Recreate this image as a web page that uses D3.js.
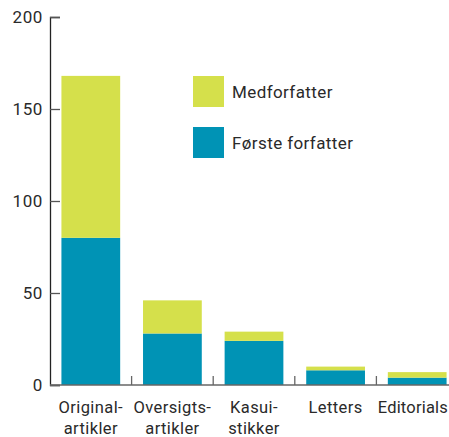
<!DOCTYPE html>
<html>
<head>
<meta charset="utf-8">
<script src="https://cdn.jsdelivr.net/npm/d3@7"></script>
<style>
  body { margin: 0; background: #fff; }
  svg text { font-family: Roboto, sans-serif; fill: #2a2a2a; }
</style>
</head>
<body>
<svg id="chart"></svg>
<script>
// categories (label lines) and the two stacked series
const categories = ["Originalartikler", "Oversigtsartikler", "Kasuistikker", "Letters", "Editorials"];
const categoryLines = [["Original-", "artikler"], ["Oversigts-", "artikler"], ["Kasui-", "stikker"], ["Letters"], ["Editorials"]];
const forsteForfatter = [80, 28, 24, 8, 4];
const medforfatter = [88, 18, 5, 2, 3];
const seriesNames = ["Medforfatter", "Første forfatter"];
const yTicks = [0, 50, 100, 150, 200];

const width = 449;
const height = 437;
const margin = { top: 17, right: -9, bottom: 52, left: 50 };

const colors = { "Medforfatter": "#d5e04b", "Første forfatter": "#0093b5" };

const svg = d3.select("#chart")
  .attr("width", width)
  .attr("height", height);

const data = categories.map((c, i) => ({
  category: c,
  "Første forfatter": forsteForfatter[i],
  "Medforfatter": medforfatter[i]
}));

const x = d3.scaleBand()
  .domain(categories)
  .range([margin.left, width - margin.right])
  .paddingInner(0.28)
  .paddingOuter(0.14);

const y = d3.scaleLinear()
  .domain([0, 200])
  .range([height - margin.bottom, margin.top]);

// stack bottom-up: first author, then co-author
const stack = d3.stack().keys(["Første forfatter", "Medforfatter"]);
const stacked = stack(data);

svg.append("g")
  .selectAll("g")
  .data(stacked)
  .enter().append("g")
  .attr("fill", d => colors[d.key])
  .selectAll("rect")
  .data(d => d)
  .enter().append("rect")
  .attr("x", d => x(d.data.category))
  .attr("y", d => y(d[1]))
  .attr("width", x.bandwidth())
  .attr("height", d => y(d[0]) - y(d[1]));

// y axis, ticks pointing inward
const yAxis = svg.append("g")
  .attr("transform", `translate(${margin.left}, 0)`)
  .call(d3.axisRight(y).tickValues(yTicks).tickSize(10).tickFormat(d3.format("d")));
yAxis.select(".domain").attr("stroke", "#222").attr("stroke-width", 1.3);
yAxis.selectAll(".tick line").attr("stroke", "#555").attr("stroke-width", 1.3);
yAxis.selectAll(".tick text")
  .attr("x", -7)
  .attr("dy", "0.35em")
  .style("text-anchor", "end")
  .style("font-size", "17px")
  .style("letter-spacing", "0.6px");

// x axis line with separators between categories
const step = x.step();
const xAxis = svg.append("g")
  .attr("transform", `translate(0, ${y(0)})`);
xAxis.append("line")
  .attr("x1", margin.left)
  .attr("x2", width)
  .attr("stroke", "#666")
  .attr("stroke-width", 1.5);
xAxis.selectAll(".sep")
  .data(categories.slice(1))
  .enter().append("line")
  .attr("class", "sep")
  .attr("x1", d => x(d) + x.bandwidth() / 2 - step / 2)
  .attr("x2", d => x(d) + x.bandwidth() / 2 - step / 2)
  .attr("y1", 0)
  .attr("y2", -9)
  .attr("stroke", "#666")
  .attr("stroke-width", 1.3);

const labels = xAxis.selectAll(".lbl")
  .data(categories)
  .enter().append("text")
  .attr("class", "lbl")
  .attr("transform", d => `translate(${x(d) + x.bandwidth() / 2}, 0)`)
  .style("text-anchor", "middle")
  .style("font-size", "16.5px")
  .style("letter-spacing", "0.4px");
labels.selectAll("tspan")
  .data((d, i) => categoryLines[i])
  .enter().append("tspan")
  .attr("x", 0)
  .attr("y", (d, j) => 28 + j * 21)
  .text(d => d);

// keep the last label inside the page edge
labels.filter((d, i) => i === categories.length - 1)
  .attr("transform", `translate(${width - 1}, 0)`)
  .style("text-anchor", "end")
  .style("letter-spacing", "0.2px");

// legend
const legend = svg.append("g")
  .attr("transform", "translate(193, 76)");
const items = legend.selectAll("g")
  .data(seriesNames)
  .enter().append("g")
  .attr("transform", (d, i) => `translate(0, ${i * 51})`);
items.append("rect")
  .attr("width", 31)
  .attr("height", 31)
  .attr("fill", d => colors[d]);
items.append("text")
  .attr("x", 39)
  .attr("y", 16)
  .attr("dy", "0.35em")
  .style("font-size", "17px")
  .style("letter-spacing", "0.4px")
  .text(d => d);
</script>
</body>
</html>
